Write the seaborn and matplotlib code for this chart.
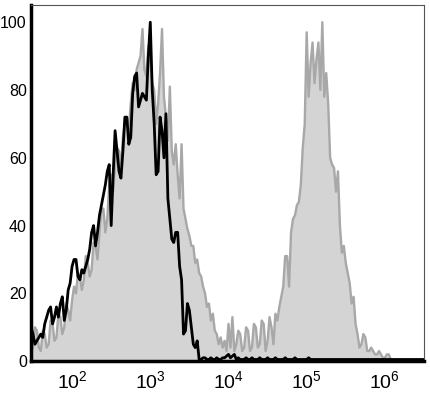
import numpy as np
import matplotlib
matplotlib.use("Agg")
import matplotlib.pyplot as plt
import seaborn as sns
from matplotlib.ticker import FixedLocator, MultipleLocator

# channel positions (log10 of fluorescence intensity)
log_x = [1.450, 1.475, 1.500, 1.525, 1.550, 1.575, 1.600, 1.625, 1.650, 1.675,
         1.700, 1.725, 1.750, 1.775, 1.800, 1.825, 1.850, 1.875, 1.900, 1.925,
         1.950, 1.975, 2.000, 2.025, 2.050, 2.075, 2.100, 2.125, 2.150, 2.175,
         2.200, 2.225, 2.250, 2.275, 2.300, 2.325, 2.350, 2.375, 2.400, 2.425,
         2.450, 2.475, 2.500, 2.525, 2.550, 2.575, 2.600, 2.625, 2.650, 2.675,
         2.700, 2.725, 2.750, 2.775, 2.800, 2.825, 2.850, 2.875, 2.900, 2.925,
         2.950, 2.975, 3.000, 3.025, 3.050, 3.075, 3.100, 3.125, 3.150, 3.175,
         3.200, 3.225, 3.250, 3.275, 3.300, 3.325, 3.350, 3.375, 3.400, 3.425,
         3.450, 3.475, 3.500, 3.525, 3.550, 3.575, 3.600, 3.625, 3.650, 3.675,
         3.700, 3.725, 3.750, 3.775, 3.800, 3.825, 3.850, 3.875, 3.900, 3.925,
         3.950, 3.975, 4.000, 4.025, 4.050, 4.075, 4.100, 4.125, 4.150, 4.175,
         4.200, 4.225, 4.250, 4.275, 4.300, 4.325, 4.350, 4.375, 4.400, 4.425,
         4.450, 4.475, 4.500, 4.525, 4.550, 4.575, 4.600, 4.625, 4.650, 4.675,
         4.700, 4.725, 4.750, 4.775, 4.800, 4.825, 4.850, 4.875, 4.900, 4.925,
         4.950, 4.975, 5.000, 5.025, 5.050, 5.075, 5.100, 5.125, 5.150, 5.175,
         5.200, 5.225, 5.250, 5.275, 5.300, 5.325, 5.350, 5.375, 5.400, 5.425,
         5.450, 5.475, 5.500, 5.525, 5.550, 5.575, 5.600, 5.625, 5.650, 5.675,
         5.700, 5.725, 5.750, 5.775, 5.800, 5.825, 5.850, 5.875, 5.900, 5.925,
         5.950, 5.975, 6.000, 6.025, 6.050, 6.075, 6.100, 6.125, 6.150, 6.175,
         6.200, 6.225, 6.250, 6.275, 6.300, 6.325, 6.350, 6.375, 6.400, 6.425,
         6.450, 6.475, 6.500]

# stained sample (grey filled), % of max
stained = [6, 3, 4, 10, 9, 4, 3, 9, 8, 4,
           5, 12, 11, 6, 7, 14, 13, 8, 10, 17,
           15, 12, 18, 22, 20, 26, 25, 21, 24, 31,
           29, 25, 27, 35, 34, 30, 38, 45, 45, 38,
           42, 52, 55, 50, 58, 63, 62, 57, 66, 70,
           72, 68, 76, 82, 80, 86, 88, 90, 98, 86,
           84, 93, 90, 82, 80, 70, 76, 85, 98, 78,
           72, 65, 81, 62, 58, 64, 55, 48, 64, 45,
           42, 39, 37, 34, 34, 29, 30, 26, 25, 22,
           20, 16, 17, 12, 14, 9, 8, 5, 7, 4,
           6, 3, 11, 4, 13, 3, 5, 9, 8, 3,
           4, 10, 9, 3, 4, 11, 10, 4, 5, 12,
           11, 3, 6, 13, 10, 5, 14, 12, 16, 19,
           22, 31, 31, 22, 38, 42, 43, 46, 47, 52,
           63, 70, 97, 78, 88, 94, 82, 89, 94, 80,
           100, 78, 85, 76, 60, 58, 57, 50, 56, 40,
           32, 34, 29, 26, 23, 17, 19, 11, 8, 4,
           5, 8, 7, 3, 3, 4, 3, 2, 2, 3,
           2, 1, 1, 2, 2, 0.5, 0, 0, 0, 0,
           0, 0, 0, 0, 0, 0, 0, 0, 0, 0,
           0, 0, 0]

# isotype control (black line), % of max
control = [9, 10, 8, 5, 6, 7, 8, 7, 11, 13,
           15, 16, 11, 13, 16, 13, 17, 19, 12, 15,
           21, 23, 28, 30, 30, 25, 24, 27, 26, 28,
           30, 33, 38, 40, 34, 38, 43, 46, 49, 52,
           56, 58, 40, 55, 68, 62, 56, 54, 62, 72,
           72, 64, 66, 79, 84, 85, 75, 77, 79, 78,
           77, 90, 100, 80, 70, 55, 56, 72, 68, 60,
           73, 48, 42, 36, 35, 38, 38, 28, 24, 8,
           9, 17, 15, 10, 5, 4, 6, 0.5, 0.5, 1,
           1, 0.5, 0.5, 1, 0.5, 0.5, 1, 0.5, 0.5, 1,
           1, 1.5, 2, 1, 1.5, 2, 0.5, 1, 0.5, 0.5,
           0.5, 1, 0.5, 0.5, 1, 0.5, 0.5, 0.5, 1, 0.5,
           0.5, 0.5, 1, 0.5, 0.5, 0.5, 1, 0.5, 0.5, 0.5,
           0.5, 1, 0.5, 0.5, 0.5, 0.5, 1, 0.5, 0.5, 0.5,
           0.5, 0.5, 0.5, 1, 0.5, 0.5, 0.5, 0.5, 0.5, 0.5,
           0.5, 0.5, 0.5, 0.5, 0.5, 0.5, 0.5, 0.5, 0.5, 0.5,
           0.5, 0.5, 0.5, 0.5, 0.5, 0.5, 0.5, 0.5, 0.5, 0.5,
           0.5, 0.5, 0.5, 0.5, 0.5, 0.5, 0.5, 0.5, 0.5, 0.5,
           0.5, 0.5, 0.5, 0.5, 0.5, 0.5, 0.5, 0.5, 0.5, 0.5,
           0.5, 0.5, 0.5, 0.5, 0.5, 0.5, 0.5, 0.5, 0.5, 0.5,
           0.5, 0.5, 0.5]

sns.set_style("white")
plt.rcParams["font.family"] = ["Liberation Sans", "DejaVu Sans"]
plt.rcParams["mathtext.default"] = "regular"

x = 10 ** np.array(log_x)

fig = plt.figure(figsize=(4.3, 4.04), dpi=100)
ax = fig.add_axes([0.072, 0.106, 0.914, 0.881])

ax.fill_between(x, stained, 0, color="#d4d4d4", lw=0)
sns.lineplot(x=x, y=stained, ax=ax, color="#a8a8a8", lw=1.7)
sns.lineplot(x=x, y=control, ax=ax, color="black", lw=2.0)

ax.set_xscale("log")
ax.set_xlim(10 ** 1.474, 10 ** 6.5)
ax.set_ylim(0, 105)
ax.set_yticks([0, 20, 40, 60, 80, 100])
ax.yaxis.set_minor_locator(MultipleLocator(5))
ax.xaxis.set_major_locator(FixedLocator([1e2, 1e3, 1e4, 1e5, 1e6]))

for side in ["top", "right"]:
    ax.spines[side].set_color("#555555")
    ax.spines[side].set_linewidth(0.8)
for side in ["left", "bottom"]:
    ax.spines[side].set_color("black")
    ax.spines[side].set_linewidth(2.5)

ax.tick_params(axis="both", which="major", direction="out", length=2.5, width=0.8,
               color="black", labelcolor="black", labelsize=11.5, pad=0.5)
ax.tick_params(axis="x", which="major", labelsize=14, pad=4)
ax.tick_params(axis="both", which="minor", direction="out", length=2, width=0.6, color="black")
ax.set_xlabel("")
ax.set_ylabel("")

fig.savefig("out.png", dpi=100)
